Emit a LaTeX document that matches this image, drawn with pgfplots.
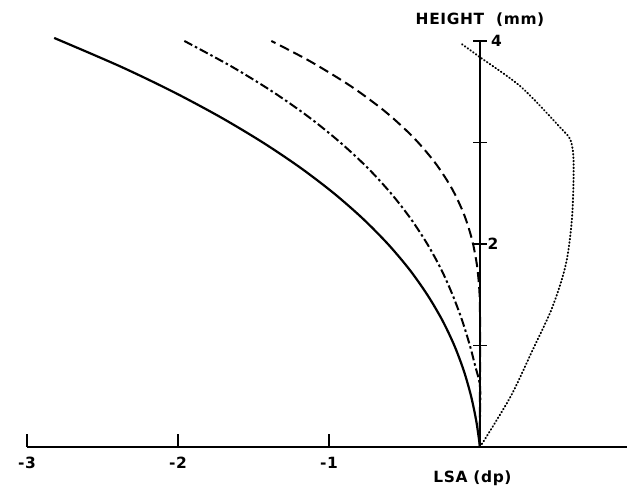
\documentclass[border=0pt]{standalone}
\usepackage{fontspec}
\setmainfont{DejaVu Sans}
\newfontfamily\lbl[LetterSpace=4]{DejaVu Sans}
\usepackage{pgfplots}
\pgfplotsset{compat=1.18}
\newcommand{\lblfont}{\lbl\bfseries\fontsize{15.5}{15.5}\selectfont}
\begin{document}
\begin{tikzpicture}
\begin{axis}[
  x=151bp, y=101.5bp,
  anchor=origin, at={(0,0)},
  axis lines=middle,
  axis line style={-, line width=1.5bp},
  xmin=-3, xmax=0.98, ymin=0, ymax=4,
  xtick={-3,-2,-1}, xticklabels={-3,-2,-1},
  ytick={1,2,3,4}, yticklabels={},
  tick align=center, major tick length=13bp,
  tick style={line width=1.5bp, black},
  xtick style={yshift=6.5bp},
  xticklabel style={font=\lblfont, anchor=north, yshift=0bp},
  clip=false,
]
% solid
\addplot[black, line width=2.2bp, smooth] coordinates {
(0,0) (-0.024,0.25) (-0.059,0.5) (-0.107,0.75) (-0.17,1.0) (-0.25,1.25) (-0.349,1.5)
(-0.468,1.75) (-0.61,2.0) (-0.776,2.25) (-0.968,2.5) (-1.188,2.75) (-1.438,3.0)
(-1.719,3.25) (-2.033,3.5) (-2.383,3.75) (-2.82,4.03)};
% dash-dot
\addplot[black, line width=2bp, smooth, dash pattern=on 9bp off 3bp on 2.5bp off 3bp] coordinates {
(0,0) (0,0.3) (0,0.6) (-0.032,0.8) (-0.067,1.0) (-0.119,1.25) (-0.182,1.5) (-0.257,1.75)
(-0.349,2.0) (-0.459,2.25) (-0.590,2.5) (-0.744,2.75) (-0.925,3.0) (-1.133,3.25)
(-1.373,3.5) (-1.647,3.75) (-1.970,4.01)};
% dashed
\addplot[black, line width=2bp, smooth, dash pattern=on 10bp off 5bp] coordinates {
(0,0) (0,0.65) (0,1.3) (-0.0045,1.55) (-0.021,1.8) (-0.054,2.05) (-0.108,2.3)
(-0.1875,2.55) (-0.297,2.8) (-0.441,3.05) (-0.624,3.3) (-0.8505,3.55) (-1.125,3.8)
(-1.382,4.0)};
% dotted
\addplot[black, line width=1.9bp, smooth, line cap=round, dash pattern=on 0.7bp off 2.7bp] coordinates {
(0,0) (0.2,0.49) (0.35,0.96) (0.48,1.38) (0.57,1.81) (0.61,2.27) (0.62,2.8)
(0.60,3.02) (0.53,3.15) (0.27,3.55) (0,3.84) (-0.13,3.98)};
\node[font=\lblfont, anchor=west, inner sep=0pt] at (axis cs:0.05,2) {2};
\node[font=\lblfont, anchor=west, inner sep=0pt] at (axis cs:0.072,4) {4};
\node[font=\lblfont] at (axis cs:0,4.21) {HEIGHT\ \ (mm)};
\node[font=\lblfont] at (axis cs:-0.05,-0.305) {LSA (dp)};
\end{axis}
\pgfresetboundingbox
\path[use as bounding box] (-480bp,-39bp) rectangle (147bp,447bp);
\end{tikzpicture}
\end{document}
